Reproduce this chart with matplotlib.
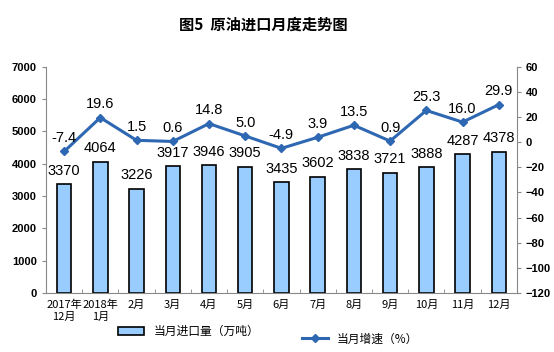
import numpy as np
import matplotlib.pyplot as plt

plt.rcParams['font.family'] = ['Noto Sans CJK SC', 'DejaVu Sans']

months = ['2017年\n12月', '2018年\n1月', '2月', '3月', '4月', '5月', '6月',
          '7月', '8月', '9月', '10月', '11月', '12月']
imports = [3370, 4064, 3226, 3917, 3946, 3905, 3435, 3602, 3838, 3721, 3888, 4287, 4378]
growth = [-7.4, 19.6, 1.5, 0.6, 14.8, 5.0, -4.9, 3.9, 13.5, 0.9, 25.3, 16.0, 29.9]

fig = plt.figure(figsize=(5.54, 3.52), dpi=100)
ax = fig.add_axes([0.083, 0.168, 0.85, 0.642])
x = np.arange(len(months))

bars = ax.bar(x, imports, width=0.4, color='#99CCFF', edgecolor='black',
              linewidth=1.2, label='当月进口量（万吨）', zorder=2)
for xi, v in zip(x, imports):
    ax.text(xi, v + 200, str(v), ha='center', va='bottom', fontsize=10.5,
            family='Liberation Sans')

ax.set_xlim(-0.5, len(months) - 0.5)
ax.set_ylim(0, 7000)
ax.set_yticks(range(0, 7001, 1000))
ax.set_xticks(x)
ax.set_xticklabels(months, fontsize=8)
ax.set_xticks(np.arange(-0.5, len(months), 1), minor=True)
ax.tick_params(axis='x', which='major', length=0, pad=5)
ax.tick_params(axis='x', which='minor', length=3, direction='in', color='#888888')
ax.tick_params(axis='y', length=3, color='#888888', labelsize=8)
for lbl in ax.get_yticklabels():
    lbl.set_family('Liberation Sans')
    lbl.set_fontweight('bold')
for s in ['top', 'right']:
    ax.spines[s].set_visible(False)
for s in ['left', 'bottom']:
    ax.spines[s].set_color('#888888')

ax2 = ax.twinx()
line, = ax2.plot(x, growth, color='#2E67B2', linewidth=2.2, marker='D',
                 markersize=4.5, label='当月增速（%）', zorder=3)
for xi, v in zip(x, growth):
    ax2.text(xi, v + 5, f'{v:.1f}', ha='center', va='bottom', fontsize=10.5,
             family='Liberation Sans')
ax2.set_ylim(-120, 60)
ax2.set_yticks(range(-120, 61, 20))
ax2.tick_params(axis='y', length=3, color='#888888', labelsize=8)
for lbl in ax2.get_yticklabels():
    lbl.set_family('Liberation Sans')
    lbl.set_fontweight('bold')
for s in ['top', 'left', 'bottom']:
    ax2.spines[s].set_visible(False)
ax2.spines['right'].set_color('#888888')

fig.text(0.475, 0.93, '图5  原油进口月度走势图', ha='center', va='center',
         fontsize=11, fontweight='bold')

fig.legend(handles=[bars], loc='center', bbox_to_anchor=(0.34, 0.058),
           frameon=False, fontsize=8.5, handlelength=2.2, handleheight=0.6)
fig.legend(handles=[line], loc='center', bbox_to_anchor=(0.65, 0.037),
           frameon=False, fontsize=8.5, handlelength=2.2)

fig.savefig('out.png', dpi=100)
